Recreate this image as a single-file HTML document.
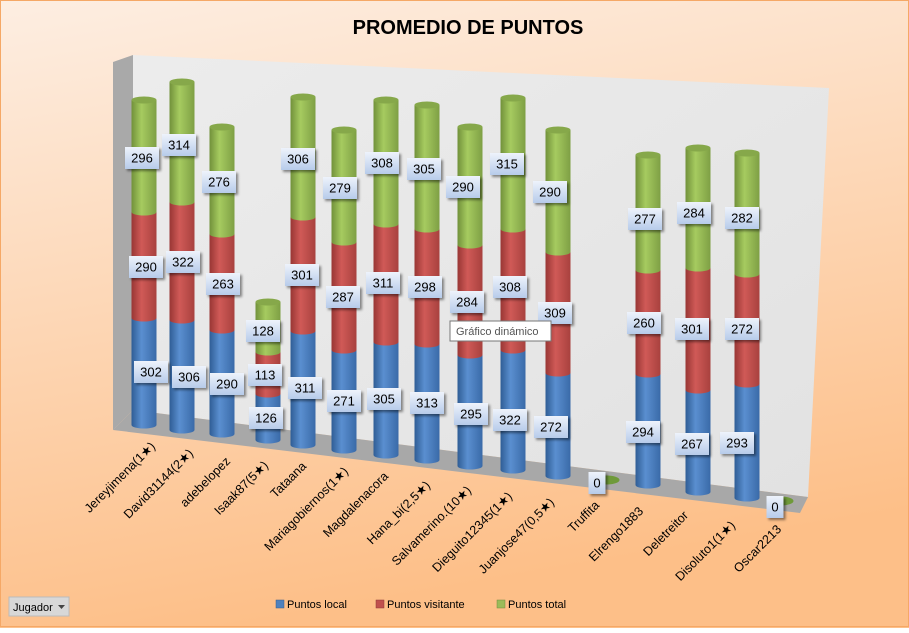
<!DOCTYPE html>
<html><head><meta charset="utf-8"><style>
html,body{margin:0;padding:0}
body{width:909px;height:628px;overflow:hidden;font-family:"Liberation Sans",sans-serif}
</style></head><body>
<svg width="909" height="628" viewBox="0 0 909 628" xmlns="http://www.w3.org/2000/svg" font-family="Liberation Sans, DejaVu Sans, sans-serif">
<defs>
<linearGradient id="bg" x1="0" y1="0" x2="0.25" y2="1">
<stop offset="0" stop-color="#fdeee2"/><stop offset="1" stop-color="#fdbf88"/></linearGradient>
<linearGradient id="wall" x1="0" y1="0" x2="1" y2="1">
<stop offset="0" stop-color="#ececec"/><stop offset="1" stop-color="#e2e2e2"/></linearGradient>
<linearGradient id="gB" x1="0" x2="1"><stop offset="0" stop-color="#2f5d95"/><stop offset="0.4" stop-color="#5a8fd0"/><stop offset="1" stop-color="#3a6aa8"/></linearGradient>
<linearGradient id="gR" x1="0" x2="1"><stop offset="0" stop-color="#983634"/><stop offset="0.4" stop-color="#d05a57"/><stop offset="1" stop-color="#a8413e"/></linearGradient>
<linearGradient id="gG" x1="0" x2="1"><stop offset="0" stop-color="#71913a"/><stop offset="0.4" stop-color="#a6cb60"/><stop offset="1" stop-color="#7e9f44"/></linearGradient>
<linearGradient id="lbl" x1="0" y1="0" x2="0" y2="1"><stop offset="0" stop-color="#eef3fb"/><stop offset="1" stop-color="#b7cbea"/></linearGradient>
<filter id="sh" x="-20%" y="-20%" width="150%" height="160%"><feDropShadow dx="2" dy="2" stdDeviation="1.2" flood-opacity="0.45"/></filter>
</defs>
<rect x="0" y="0" width="909" height="628" fill="url(#bg)"/>
<rect x="0.5" y="0.5" width="908" height="626" fill="none" stroke="#f5a866" stroke-width="1"/>
<text x="468" y="34" font-size="20" font-weight="bold" text-anchor="middle" fill="#000" font-family="Liberation Sans, sans-serif">PROMEDIO DE PUNTOS</text>
<polygon points="113,62 133,55 133,410 113,430" fill="#a9a9a9"/>
<polygon points="133,55 829,88 808,497 133,410" fill="url(#wall)"/>
<polygon points="133,410 808,497 800,513 113,430" fill="#a8a8a8"/>
<g id="bars"></g>
<g id="labels"></g>
<g id="xl" font-size="12.5" fill="#000"></g>
<rect x="450" y="321" width="101" height="20" fill="#fff" stroke="#777" stroke-width="1"/>
<text x="456" y="335" font-size="11" fill="#555">Gráfico dinámico</text>
<rect x="9" y="597" width="60" height="19" fill="#d8d8d8" stroke="#bbb"/>
<text x="13" y="611" font-size="11" fill="#000">Jugador</text>
<polygon points="58,605 65,605 61.5,609" fill="#444"/>
<rect x="276" y="600" width="8" height="8" fill="#4f81bd" stroke="#385d8a" stroke-width="0.5"/>
<text x="287" y="608" font-size="11" fill="#000">Puntos local</text>
<rect x="376" y="600" width="8" height="8" fill="#c0504d" stroke="#8c3836" stroke-width="0.5"/>
<text x="387" y="608" font-size="11" fill="#000">Puntos visitante</text>
<rect x="497" y="600" width="8" height="8" fill="#9bbb59" stroke="#71893f" stroke-width="0.5"/>
<text x="508" y="608" font-size="11" fill="#000">Puntos total</text>
</svg>
<script>
var NS="http://www.w3.org/2000/svg";
var data=[
["Jereyjimena(1★)",144,100,212,318,425,[[296,142,158],[290,146,267],[302,151,372]],156,447],
["David31144(2★)",182,82,202,320,430,[[314,179,145],[322,183,262],[306,189,377]],194,454],
["adebelopez",222,127,234,330,434,[[276,219,182],[263,223,284],[290,227,384]],231,462],
["Isaak87(5★)",268,302,352,394,440,[[128,263,331],[113,265,375],[126,266,418]],269,466],
["Tataana",303,97,217,331,445,[[306,298,159],[301,302,275],[311,305,388]],307,467],
["Mariagobiernos(1★)",344,130,242,350,450,[[279,340,188],[287,343,297],[271,344,401]],349,472],
["Magdalenacora",386,100,224,342,455,[[308,382,163],[311,383,283],[305,384,399]],389,477],
["Hana_bi(2,5★)",427,105,229,344,460,[[305,424,169],[298,425,287],[313,427,403]],431,486],
["Salvamerino.(10★)",470,127,245,355,466,[[290,463,187],[284,467,302],[295,471,414]],472,491],
["Dieguito12345(1★)",513,98,229,350,470,[[315,507,164],[308,510,287],[322,510,420]],513,497],
["Juanjose47(0,5★)",558,130,252,373,476,[[290,550,192],[309,555,313],[272,551,427]],555,503],
["Truffita",604,null,0,0,481,[[0,597,483]],600,506],
["Elrengo1883",648,155,270,374,485,[[277,645,219],[260,644,323],[294,643,432]],644,512],
["Deletreitor",698,148,268,390,492,[[284,694,213],[301,692,329],[267,692,444]],689,516],
["Disoluto1(1★)",747,153,274,384,498,[[282,742,218],[272,742,329],[293,737,443]],736,526],
["Oscar2213",778,null,0,0,502,[[0,775,507]],782,530]
];
var bars=document.getElementById("bars"),labs=document.getElementById("labels"),xl=document.getElementById("xl");
function el(t,a,p){var e=document.createElementNS(NS,t);for(var k in a)e.setAttribute(k,a[k]);p.appendChild(e);return e;}
var w=12.5,ry=3.5;
data.forEach(function(d,i){
 var x=d[1],top=d[2],gr=d[3],rb=d[4],bot=d[5];
 if(top===null){el("ellipse",{cx:x+3,cy:bot-1,rx:w,ry:ry+1,fill:"#6f9a3a"},bars);}
 else{
  el("rect",{x:x-w,y:rb,width:2*w,height:bot-rb,fill:"url(#gB)"},bars);
  el("ellipse",{cx:x,cy:bot,rx:w,ry:ry,fill:"url(#gB)"},bars);
  el("rect",{x:x-w,y:gr,width:2*w,height:rb-gr,fill:"url(#gR)"},bars);
  el("ellipse",{cx:x,cy:rb,rx:w,ry:ry,fill:"url(#gR)"},bars);
  el("rect",{x:x-w,y:top,width:2*w,height:gr-top,fill:"url(#gG)"},bars);
  el("ellipse",{cx:x,cy:gr,rx:w,ry:ry,fill:"url(#gG)"},bars);
  el("ellipse",{cx:x,cy:top,rx:w,ry:ry,fill:"#86a84a"},bars);
 }
 d[6].forEach(function(l){
  var s=String(l[0]),bw=s.length>1?34:17;
  var g=el("g",{filter:"url(#sh)"},labs);
  el("rect",{x:l[1]-bw/2,y:l[2]-11,width:bw,height:22,fill:"url(#lbl)"},g);
  var t=el("text",{x:l[1],y:l[2]+4.5,"font-size":"13","text-anchor":"middle",fill:"#000"},labs);t.textContent=s;
 });
 var ex=d[7], ey=d[8];
 var t=el("text",{x:ex,y:ey,"text-anchor":"end",transform:"rotate(-45 "+ex+" "+ey+")"},xl);t.textContent=d[0];
});
</script>
</body></html>
